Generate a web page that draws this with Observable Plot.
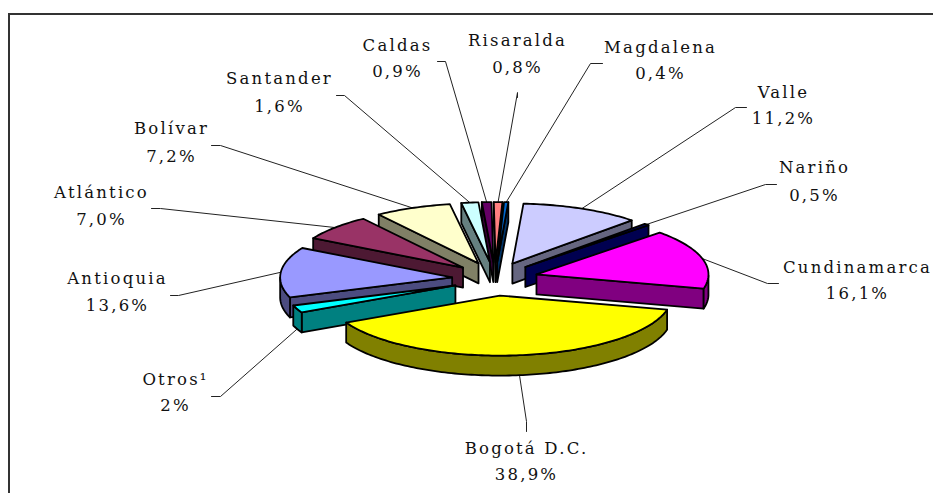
<!DOCTYPE html>
<html><head><meta charset="utf-8">
<script src="https://cdn.jsdelivr.net/npm/d3@7"></script>
<script src="https://cdn.jsdelivr.net/npm/@observablehq/plot@0.6"></script>
<style>html,body{margin:0;padding:0;background:#fff;overflow:hidden}svg text{letter-spacing:2.2px}</style>
</head><body><div id="c"></div>
<script>
const names = ["Valle","Nariño","Cundinamarca","Bogotá D.C.","Otros¹","Antioquia","Atlántico","Bolívar","Santander","Caldas","Risaralda","Magdalena"];
const shares = [11.2,0.5,16.1,38.9,2,13.6,7.0,7.2,1.6,0.9,0.8,0.4];
const pctText = ["11,2%","0,5%","16,1%","38,9%","2%","13,6%","7,0%","7,2%","1,6%","0,9%","0,8%","0,4%"];
const topColors = ["#CCCCFF","#000080","#FF00FF","#FFFF00","#00FFFF","#9999FF","#993366","#FFFFCC","#CCFFFF","#660066","#FF8080","#0066CC"];
const wallColors = ["#666680","#000050","#800080","#808000","#008080","#4C4C80","#4D1933","#808066","#668080","#330033","#804040","#003366"];

// layout of the labels and their leader lines (label centre, elbow, end of stub)
const labelX = [783,814,857,526,175,117,101,171,279,397,517,660];
const labelY = [92,167,267,448,379,278,192,128,78,45,40,47];
const pctY   = [118,195,293,474,405,305,219,156,106,71,67,73];
const elbowX = [735,765,767,526,220,178,160,220,344,445,517,590];
const elbowY = [107,184,283,421,396,295,208,145,95,61,92,63];
const stubX  = [746,776,778,526,211,170,151,211,336,437,517,602];
const stubY  = [107,184,283,431,396,295,208,145,95,61,97,63];

const W=933,H=493, cx=494.5, cy=278.4, rx=172, ry=60, exX=43, exY=16.8, depth=20, start=3.7*Math.PI/180;
const arcs = d3.pie().sort(null).startAngle(start).endAngle(start+2*Math.PI)(shares);
const pt=(a,ox,oy,r=1,d=0)=>({x:ox+rx*r*Math.sin(a),y:oy-ry*r*Math.cos(a)+d});
const faces=[], leaders=[]; let fid=0;
const addFace=(poly,fill)=>{fid++;poly.forEach(p=>faces.push({x:p.x,y:p.y,id:fid,fill}))};
const order = arcs.map((a,i)=>{const m=(a.startAngle+a.endAngle)/2;return {i,a,m,ox:cx+exX*Math.sin(m),oy:cy-exY*Math.cos(m)}}).sort((p,q)=>p.oy-q.oy);
for(const {i,a,m,ox,oy} of order){
  const a0=a.startAngle,a1=a.endAngle,wall=wallColors[i];
  const n=Math.max(2,Math.ceil((a1-a0)/0.02));
  const sweep=d3.range(n+1).map(k=>a0+(a1-a0)*k/n);
  const radial=t=>[pt(t,ox,oy,0),pt(t,ox,oy,1),pt(t,ox,oy,1,depth),pt(t,ox,oy,0,depth)];
  if(Math.sin(a0)<0) addFace(radial(a0),wall);
  if(Math.sin(a1)>0) addFace(radial(a1),wall);
  const front=sweep.filter(t=>Math.cos(t)<=0);
  if(front.length>1) addFace([...front.map(t=>pt(t,ox,oy)),...front.slice().reverse().map(t=>pt(t,ox,oy,1,depth))],wall);
  addFace([{x:ox,y:oy},...sweep.map(t=>pt(t,ox,oy))],topColors[i]);
  const rim=pt(m,ox,oy,1,Math.cos(m)<0?depth:0);
  leaders.push({x:rim.x,y:rim.y,id:i},{x:elbowX[i],y:elbowY[i],id:i},{x:stubX[i],y:stubY[i],id:i});
}
const labels=names.map((n,i)=>({n,p:pctText[i],x:labelX[i],y:labelY[i],y2:pctY[i]}));
const font={fontFamily:"DejaVu Serif",fontSize:16.5,fill:"#111"};
const chart=Plot.plot({
  width:W,height:H,margin:0,
  x:{domain:[0,W],range:[0,W],axis:null},
  y:{domain:[0,H],range:[0,H],axis:null},
  marks:[
    Plot.rect([{x1:9,x2:W+10,y1:14,y2:H+10}],{x1:"x1",x2:"x2",y1:"y1",y2:"y2",fill:"none",stroke:"#333",strokeWidth:2}),
    Plot.line(leaders,{x:"x",y:"y",z:"id",stroke:"#222",strokeWidth:1,curve:"linear"}),
    Plot.line(faces,{x:"x",y:"y",z:"id",fill:"fill",stroke:"#000",strokeWidth:1.8,strokeLinejoin:"round",curve:"linear-closed"}),
    Plot.text(labels,{x:"x",y:"y",text:"n",...font}),
    Plot.text(labels,{x:"x",y:"y2",text:"p",...font})
  ]
});
document.getElementById("c").appendChild(chart);
</script></body></html>
